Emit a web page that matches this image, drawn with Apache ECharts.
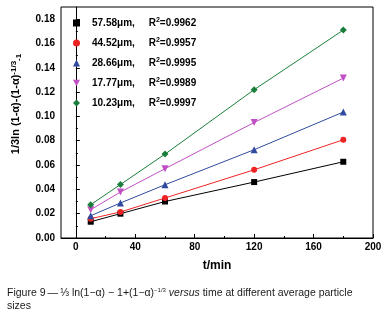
<!DOCTYPE html>
<html>
<head>
<meta charset="utf-8">
<script src="https://cdn.jsdelivr.net/npm/echarts@6/dist/echarts.min.js"></script>
<style>
html,body{margin:0;padding:0;background:#fff;}
#chart{width:387px;height:322px;}
</style>
</head>
<body>
<div id="chart"></div>
<script>
// time axis (min)
var times=[10,30,60,120,180];
// particle sizes and R^2 of each fit
var sizes=['57.58μm','44.52μm','28.66μm','17.77μm','10.23μm'];
var r2Values=['0.9962','0.9957','0.9995','0.9989','0.9997'];
// 1/3ln(1-a)-(1-a)^-1/3-1 values
var s5758=[0.0134,0.0200,0.0300,0.0460,0.0627];
var s4452=[0.0159,0.0214,0.0329,0.0561,0.0808];
var s2866=[0.0183,0.0288,0.0438,0.0726,0.1036];
var s1777=[0.0233,0.0378,0.0570,0.0950,0.1315];
var s1023=[0.0274,0.0440,0.0690,0.1220,0.1710];
// ticks
var xMajor=[0,40,80,120,160,200];
var xMinor=[20,60,100,140,180];
var yMajor=[0,0.02,0.04,0.06,0.08,0.10,0.12,0.14,0.16,0.18];
var yMinor=[0.01,0.03,0.05,0.07,0.09,0.11,0.13,0.15,0.17];

var colors=['#000000','#ee2424','#2f4a9e','#c14fc4','#1b7d3c'];
var symbols=['rect','circle','triangle','path://M0,0 L10,0 L5,9 Z','diamond'];
var symSizes=[6,6,7,7,7];
var allData=[s5758,s4452,s2866,s1777,s1023];

var myChart=echarts.init(document.getElementById('chart'));
var font='"Liberation Sans", Arial, sans-serif';

var series=[];
for(var i=0;i<sizes.length;i++){
	series.push({
		type:'line',
		name:sizes[i],
		data:times.map(function(t,j){return [t,allData[i][j]];}),
		symbol:symbols[i],
		symbolSize:symSizes[i],
		showSymbol:true,
		lineStyle:{width:1,color:colors[i]},
		itemStyle:{color:colors[i]},
		animation:false,
		z:3
	});
}

var option={
	animation:false,
	color:colors,
	grid:{
		show:true,
		left:61,
		right:14,
		top:7,
		bottom:84,
		borderColor:'#000',
		borderWidth:1
	},
	legend:{
		orient:'vertical',
		left:73,
		top:17,
		padding:0,
		itemWidth:7,
		itemHeight:7,
		itemGap:8,
		data:sizes.map(function(s,i){return {name:s,icon:symbols[i]};}),
		formatter:function(name){
			var k=sizes.indexOf(name);
			return name+',     R{sup|2}=' + r2Values[k];
		},
		textStyle:{
			color:'#000',
			fontFamily:font,
			fontWeight:'bold',
			fontSize:10,
			lineHeight:12,
			padding:[0,0,0,7],
			rich:{
				sup:{fontSize:7,fontWeight:'bold',verticalAlign:'top',lineHeight:12,fontFamily:font,color:'#000'}
			}
		}
	},
	xAxis:[{
		type:'value',
		min:-10,
		max:200,
		name:'t/min',
		nameLocation:'middle',
		nameGap:22,
		nameTextStyle:{color:'#000',fontFamily:font,fontWeight:'bold',fontSize:12},
		axisLine:{show:true,lineStyle:{color:'#000',width:1}},
		axisTick:{show:true,inside:true,length:4,customValues:xMajor,lineStyle:{color:'#000'}},
		axisLabel:{customValues:xMajor,color:'#000',fontFamily:font,fontWeight:'bold',fontSize:10,margin:4},
		splitLine:{show:false}
	},{
		type:'value',
		min:-10,
		max:200,
		position:'bottom',
		axisLine:{show:false},
		axisTick:{show:true,inside:true,length:2,customValues:xMinor,lineStyle:{color:'#000'}},
		axisLabel:{show:false},
		splitLine:{show:false}
	}],
	yAxis:[{
		type:'value',
		min:0,
		max:0.19,
		axisLine:{show:true,lineStyle:{color:'#000',width:1}},
		axisTick:{show:true,inside:true,length:4,customValues:yMajor,lineStyle:{color:'#000'}},
		axisLabel:{
			customValues:yMajor,
			color:'#000',fontFamily:font,fontWeight:'bold',fontSize:10,margin:6,
			formatter:function(v){return v.toFixed(2);}
		},
		splitLine:{show:false}
	},{
		type:'value',
		min:0,
		max:0.19,
		position:'left',
		axisLine:{show:false},
		axisTick:{show:true,inside:true,length:2,customValues:yMinor,lineStyle:{color:'#000'}},
		axisLabel:{show:false},
		splitLine:{show:false}
	}],
	graphic:[{
		type:'text',
		x:16,
		y:104,
		rotation:Math.PI/2,
		style:{
			text:'1/3ln (1-α)-(1-α){sup|-1/3}{sub|-1}',
			fill:'#000',
			font:'bold 11px '+font,
			align:'center',
			verticalAlign:'middle',
			rich:{
				sup:{fontSize:8,fontWeight:'bold',fontFamily:font,verticalAlign:'top',lineHeight:13,fill:'#000'},
				sub:{fontSize:8,fontWeight:'bold',fontFamily:font,verticalAlign:'bottom',lineHeight:13,fill:'#000'}
			}
		}
	},{
		type:'text',
		left:7,
		top:287,
		style:{
			text:'Figure 9\u2009—\u2009⅓ ln(1−α) − 1+(1−α){sup|−1/3} {it|versus} time at different average particle\nsizes',
			fill:'#1a1a1a',
			font:'10.5px '+font,
			lineHeight:13,
			rich:{
				sup:{fontSize:6,fontFamily:font,verticalAlign:'top',lineHeight:13,fill:'#1a1a1a'},
				it:{fontSize:10.5,fontStyle:'italic',fontFamily:font,lineHeight:13,fill:'#1a1a1a'}
			}
		}
	}],
	series:series
};
myChart.setOption(option);
</script>
</body>
</html>
